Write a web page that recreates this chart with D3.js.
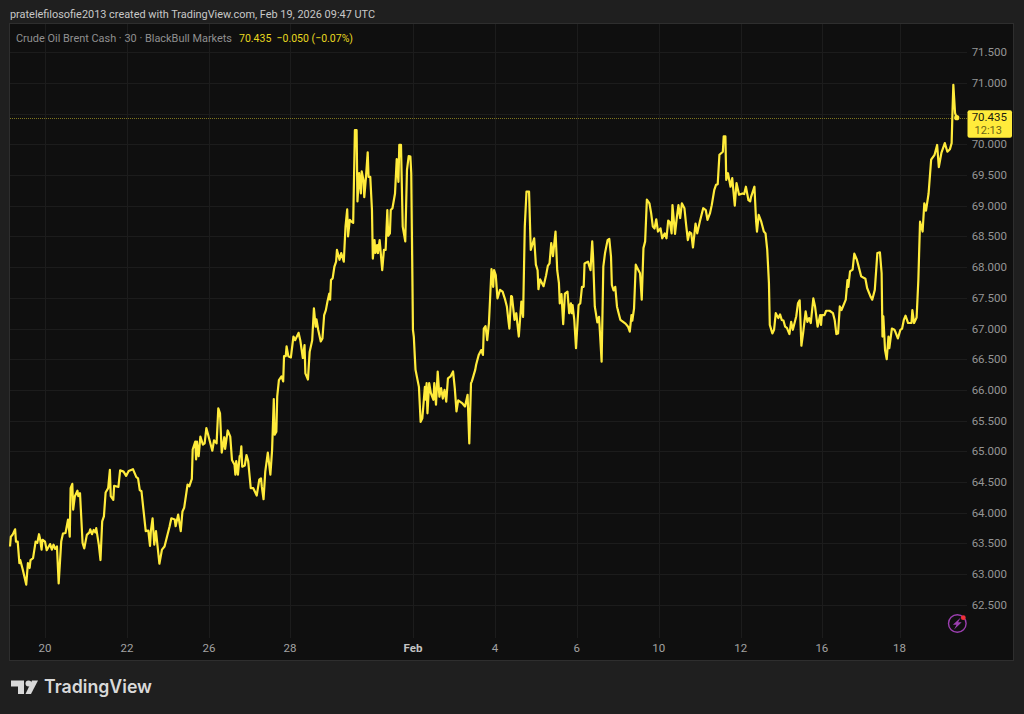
<!DOCTYPE html>
<html><head><meta charset="utf-8">
<script src="https://cdn.jsdelivr.net/npm/d3@7/dist/d3.min.js"></script>
<style>html,body{margin:0;padding:0;background:#1f1f1f;overflow:hidden}svg{display:block}</style>
</head><body><svg id="c" width="1024" height="714"></svg>
<script>
const headerText = "pratelefilosofie2013 created with TradingView.com, Feb 19, 2026 09:47 UTC";
const symbolText = "Crude Oil Brent Cash · 30 · BlackBull Markets";
const quoteText = "70.435  −0.050 (−0.07%)";
const lastPrice = 70.435;
const lastLabel = "70.435";
const countdown = "12:13";
const brand = "TradingView";
const priceTicks = [62.5,63,63.5,64,64.5,65,65.5,66,66.5,67,67.5,68,68.5,69,69.5,70,70.5,71,71.5];
const timeLabels = ["20","22","26","28","Feb","4","6","10","12","16","18"];
const timeTickBars = [41,137,233,328,472,568,664,760,856,951,1042];
// 30-minute bar number of each read point
const bars = [0,1,3,6,7,9,11,12,15,19,21,23,24,27,30,32,34,35,37,38,41,43,47,49,51,53,55,57,60,62,65,68,70,71,73,74,76,79,80,82,85,87,90,93,94,96,98,100,101,104,106,108,110,112,115,117,118,121,122,127,129,133,136,139,144,148,150,152,154,159,162,164,165,167,169,171,175,178,181,187,189,193,194,197,200,202,204,208,210,213,214,217,218,219,221,223,226,228,230,233,237,239,242,244,246,248,251,252,255,258,260,263,264,265,267,269,270,271,272,275,277,279,282,285,289,292,294,295,297,299,302,305,
307,309,310,312,313,315,318,320,321,323,324,326,329,332,334,338,340,343,345,346,349,351,354,356,358,359,361,364,366,368,370,372,374,375,376,378,380,382,383,386,388,391,393,395,396,398,400,402,404,406,407,409,411,412,414,415,417,419,420,422,424,425,427,428,430,431,433,436,438,440,442,443,445,446,448,451,453,455,456,458,460,463,465,467,469,470,472,473,475,479,481,483,486,487,488,489,491,493,496,497,499,501,503,505,507,509,511,513,516,519,521,523,525,530,533,536,538,540,541,545,546,549,552,554,555,557,559,561,564,566,567,569,571,574,
577,580,582,584,585,587,588,591,593,596,599,601,603,605,608,610,614,616,618,619,621,625,628,630,632,634,636,639,641,643,644,646,648,650,653,655,657,658,659,661,663,666,668,670,672,673,677,680,682,683,685,688,690,693,695,697,700,702,704,705,707,709,711,712,715,721,724,726,728,729,731,733,735,738,740,742,744,746,749,751,753,755,757,759,762,764,767,769,771,773,775,776,779,781,783,785,787,790,792,794,796,798,800,803,805,808,812,815,817,820,822,825,827,829,
831,835,836,838,839,841,844,846,849,851,854,858,860,862,865,867,868,872,874,875,877,880,883,885,887,889,890,893,895,897,900,902,904,906,908,910,913,915,917,921,923,925,927,929,932,934,936,938,941,943,946,949,950,951,954,956,960,964,966,968,970,972,974,979,981,982,984,987,989,992,995,997,1002,1004,1008,1010,1013,1016,1019,1021,1022,1023,1025,1027,1029,1030,1033,1036,1037,1040,1043,1045,1047,1049,1052,1056,1057,1059,1062,1064,1066,1069,1071,1073,1076,1079,1083,1086,1088,1091,1095,1098,1101,1103,1104,1105,1107,1109];
const closes = [63.45,63.61,63.64,63.73,63.53,63.53,63.18,63.23,63.07,62.83,63.18,63.10,63.23,63.26,63.53,63.51,63.65,63.59,63.40,63.56,63.53,63.39,63.49,63.40,63.48,63.41,63.45,62.85,63.53,63.66,63.67,63.89,63.61,64.40,64.47,64.05,64.27,64.36,64.27,64.32,63.51,63.42,63.64,63.68,63.73,63.65,63.72,63.68,63.75,63.48,63.23,63.86,63.94,64.33,64.40,64.70,64.27,64.21,64.44,64.42,64.69,64.67,64.60,64.68,64.71,64.58,64.56,64.37,64.35,63.70,63.71,63.46,63.70,63.91,63.48,63.70,63.17,63.40,63.45,63.78,63.91,63.89,63.78,63.97,63.70,64.02,64.08,64.46,64.43,64.55,65.03,65.16,64.87,65.16,64.92,65.24,65.11,65.13,65.38,65.22,65.01,65.18,65.13,65.70,65.62,64.98,65.23,65.04,65.34,65.24,64.86,64.78,64.62,64.84,64.62,64.92,64.93,65.08,64.75,64.77,64.94,64.84,64.40,64.40,64.28,64.54,64.56,64.42,64.22,64.67,64.98,64.62,
65.02,65.85,65.27,65.32,65.89,66.16,66.22,66.14,66.55,66.55,66.71,66.55,66.53,66.87,66.81,66.93,66.81,66.52,66.73,66.27,66.17,66.62,66.81,67.33,67.03,67.15,66.98,66.79,66.84,67.22,67.30,67.45,67.57,67.47,67.79,67.82,68.01,68.09,68.28,68.12,68.23,68.09,68.66,68.94,68.50,68.77,68.74,68.72,70.23,70.23,69.07,69.53,69.20,69.56,69.42,69.14,69.47,69.87,69.47,69.47,68.93,68.14,68.44,68.23,68.36,68.23,68.44,67.95,68.28,68.28,68.93,68.51,68.55,68.93,68.96,69.20,69.76,69.39,69.99,69.99,68.66,68.42,69.58,69.81,69.80,69.53,66.98,66.87,66.33,66.05,65.48,65.54,66.05,65.84,66.11,65.62,66.11,65.95,65.84,66.11,65.76,66.30,65.89,66.03,65.86,66.00,65.81,66.19,66.22,66.30,66.03,65.65,65.83,65.78,65.73,65.92,65.13,66.11,66.14,66.33,66.41,66.57,66.65,66.57,67.00,67.04,66.81,67.09,67.97,67.68,67.95,67.87,67.49,67.63,
67.60,67.47,67.36,67.11,67.00,67.53,67.52,67.14,67.25,66.87,67.44,67.19,68.66,69.23,69.23,68.28,68.47,68.04,67.95,67.64,67.80,67.69,67.87,68.02,68.06,68.39,68.18,68.58,67.95,67.74,67.41,67.56,67.07,67.57,67.60,67.25,67.41,67.25,67.38,67.14,66.68,67.38,67.41,67.68,67.68,68.06,68.09,67.95,68.42,68.17,67.36,67.10,67.19,66.46,68.01,68.23,68.44,68.46,68.17,67.71,67.62,67.68,67.36,67.30,67.14,67.08,67.03,66.95,67.22,67.13,67.33,68.04,67.98,67.90,67.47,68.31,68.42,69.10,69.04,68.88,68.66,68.63,68.78,68.58,68.63,68.47,68.55,68.47,68.76,68.73,68.55,69.01,68.54,68.80,69.01,68.80,69.04,68.96,68.69,68.44,68.57,68.55,68.32,68.71,68.55,68.74,68.96,68.93,68.77,68.88,69.01,69.26,69.34,69.35,
69.83,69.88,70.13,70.13,69.42,69.53,69.31,69.45,69.00,69.37,69.18,69.20,69.19,69.31,69.09,69.07,69.14,69.31,68.74,68.58,68.85,68.74,68.58,68.55,68.28,67.74,67.06,66.92,66.98,67.25,67.17,67.23,67.14,67.13,67.03,67.01,66.91,67.11,66.98,67.20,67.41,67.46,66.72,66.92,67.28,67.11,67.17,67.09,67.49,67.36,67.03,67.22,67.06,67.22,67.22,67.29,67.29,67.25,67.14,66.91,66.92,67.36,67.30,67.47,67.79,67.68,67.93,67.96,68.22,68.12,67.96,67.85,67.81,67.66,67.52,67.47,67.63,68.23,68.24,67.90,66.87,67.20,66.65,66.50,66.87,66.68,67.00,66.98,66.95,66.84,66.98,67.00,67.14,67.21,67.09,67.09,67.30,67.09,67.18,67.79,68.74,68.58,69.04,68.92,69.20,69.75,69.83,69.99,69.63,69.86,70.02,69.88,69.92,70.02,70.53,70.97,70.51,70.435];

const svg = d3.select("#c");
const FONT = "Roboto,'Noto Sans',sans-serif";
const pane = {l:10,t:24,r:967,b:638,R:1013,B:660};
svg.append("rect").attr("width",1024).attr("height",714).attr("fill","#1f1f1f");
svg.append("rect").attr("x",pane.l-.5).attr("y",pane.t-.5).attr("width",pane.R-pane.l+1).attr("height",pane.B-pane.t+1)
  .attr("fill","#0f0f0f").attr("stroke","#2e2e2e");

const x = d3.scaleLinear().domain([0,1121]).range([pane.l,pane.r]);
const y = d3.scaleLinear().domain([61.96,71.96]).range([pane.b,pane.t]);
const cx = d => Math.round(x(d))+.5, cy = d => Math.round(y(d))+.5;

// grid
svg.append("g").selectAll("line").data(priceTicks).join("line")
  .attr("x1",pane.l).attr("x2",pane.r).attr("y1",cy).attr("y2",cy).attr("stroke","#1c1c1c");
svg.append("g").selectAll("line").data(timeTickBars).join("line")
  .attr("x1",cx).attr("x2",cx).attr("y1",pane.t).attr("y2",pane.b).attr("stroke","#1c1c1c");

// axes (the tick hidden behind the last-price label is not written)
svg.append("g").selectAll("text").data(priceTicks.filter(d=>Math.abs(y(d)-y(lastPrice))>16)).join("text")
  .attr("x",1007).attr("y",d=>y(d)+4).attr("text-anchor","end")
  .attr("font-family",FONT).attr("font-size",11.5).attr("fill","#959595").text(d=>d3.format(".3f")(d));
svg.append("g").selectAll("text").data(timeLabels).join("text")
  .attr("x",(d,i)=>x(timeTickBars[i])).attr("y",652).attr("text-anchor","middle")
  .attr("font-family",FONT).attr("font-size",11.5).attr("font-weight",(d)=>d==="Feb"?700:400)
  .attr("fill",d=>d==="Feb"?"#c4c4c4":"#a3a3a3").text(d=>d);

// last price line
svg.append("line").attr("x1",pane.l).attr("x2",pane.r).attr("y1",cy(lastPrice)).attr("y2",cy(lastPrice))
  .attr("stroke","#7f7620").attr("stroke-dasharray","1 1");

// series
const line = d3.line().x(d=>x(d[0])).y(d=>y(d[1]));
svg.append("path").datum(d3.zip(bars,closes)).attr("d",line).attr("fill","none")
  .attr("stroke","#ffeb3b").attr("stroke-width",2.2).attr("stroke-linejoin","round");
svg.append("circle").attr("cx",x(bars[bars.length-1])).attr("cy",y(lastPrice)).attr("r",2.6).attr("fill","#ffeb3b");

// price label
svg.append("rect").attr("x",967.5).attr("y",y(lastPrice)-7.5).attr("width",44.5).attr("height",27.5).attr("rx",2).attr("fill","#ffeb3b");
svg.append("text").attr("x",1007).attr("y",y(lastPrice)+3.5).attr("text-anchor","end").attr("font-family",FONT)
  .attr("font-size",11.5).attr("fill","#1a1a10").text(lastLabel);
svg.append("text").attr("x",1002).attr("y",y(lastPrice)+16).attr("text-anchor","end").attr("font-family",FONT)
  .attr("font-size",11).attr("fill","#6b6416").text(countdown);

// header and legend
svg.append("text").attr("x",10).attr("y",18).attr("font-family",FONT).attr("font-size",11.5).attr("textLength",365).attr("lengthAdjust","spacingAndGlyphs").attr("fill","#c8c8c8").text(headerText);
svg.append("text").attr("x",16).attr("y",42).attr("font-family",FONT).attr("font-size",11.5).attr("textLength",216).attr("lengthAdjust","spacingAndGlyphs").attr("fill","#909090").text(symbolText);
svg.append("text").attr("x",239).attr("y",42).attr("xml:space","preserve").style("white-space","pre").attr("font-family",FONT).attr("font-size",11.5).attr("textLength",114).attr("lengthAdjust","spacingAndGlyphs").attr("fill","#e8d820").text(quoteText);

// lightning icon
const ic = svg.append("g").attr("transform","translate(957.3,623.5)");
ic.append("circle").attr("r",8.8).attr("fill","none").attr("stroke","#9c3fb0").attr("stroke-width",1.4);
ic.append("path").attr("d","M3.4,-6 L-4.4,1.2 L-0.8,1.2 L-3.2,6 L4.4,-1.2 L0.8,-1.2 Z").attr("fill","#9c3fb0");
ic.append("circle").attr("cx",6).attr("cy",-5.8).attr("r",2.4).attr("fill","#f0303a");

// logo
const lg = svg.append("g").attr("transform","translate(11,680.5)").attr("fill","#d9d9d9");
lg.append("path").attr("d","M0,0 H13 V13.5 H7 V6 H0 Z");
lg.append("circle").attr("cx",17.5).attr("cy",3).attr("r",3);
lg.append("path").attr("d","M21,0 H27 L20,13.5 H14.5 Z");
svg.append("text").attr("x",44).attr("y",693).attr("font-family","Inter,Roboto,sans-serif").attr("font-size",18).attr("textLength",108).attr("lengthAdjust","spacingAndGlyphs").attr("font-weight",600).attr("fill","#d9d9d9").text(brand);
</script></body></html>
